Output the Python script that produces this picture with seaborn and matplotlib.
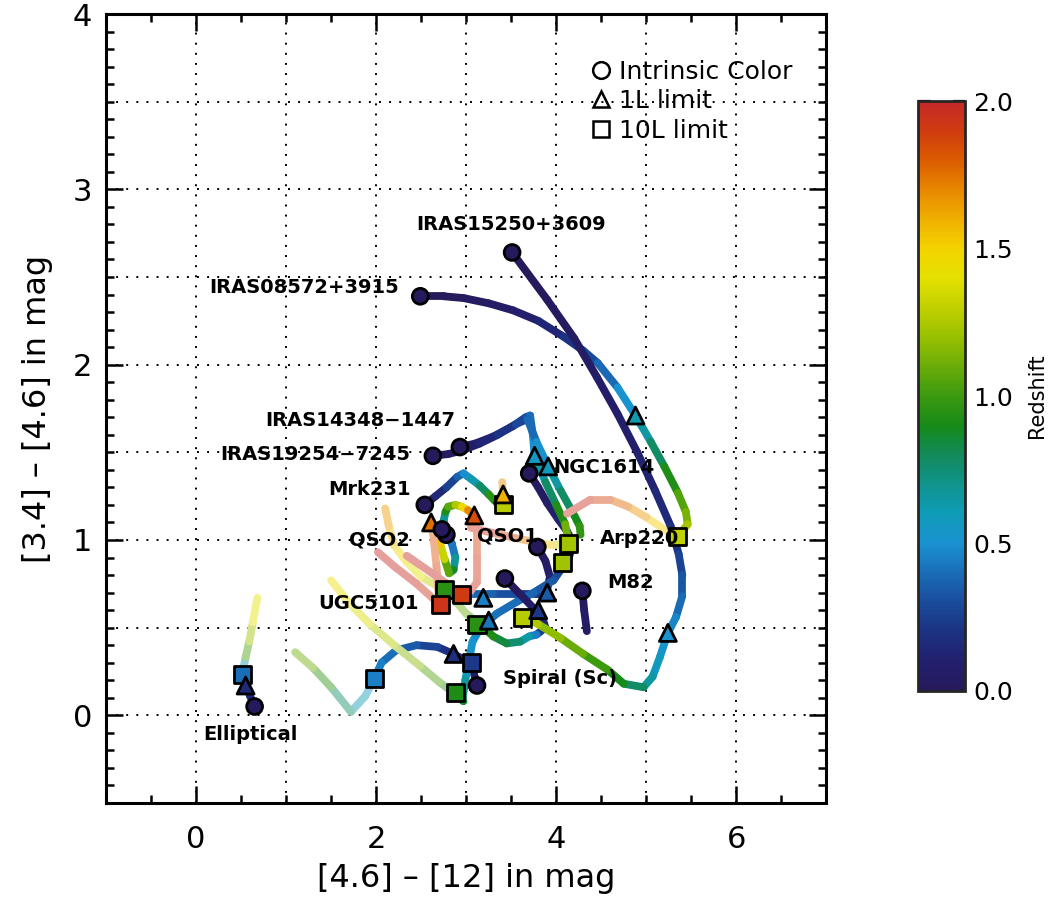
import numpy as np
import pandas as pd
import matplotlib
matplotlib.use("Agg")
import matplotlib.pyplot as plt
import seaborn as sns
from matplotlib.colors import LinearSegmentedColormap, Normalize
from matplotlib.collections import LineCollection
from matplotlib.lines import Line2D
from matplotlib.cm import ScalarMappable
import matplotlib.ticker as mticker

# ---------------------------------------------------------------------------
# Colour tracks of galaxy templates with redshift (0 -> 2)
# x = [4.6]-[12], y = [3.4]-[4.6], z = redshift along the track
# ---------------------------------------------------------------------------
ell_x = [0.65, 0.60, 0.55, 0.51, 0.55, 0.59, 0.63, 0.68]
ell_y = [0.05, 0.11, 0.17, 0.23, 0.33, 0.42, 0.53, 0.67]
ell_z = [0.00, 0.10, 0.20, 0.38, 0.90, 1.15, 1.30, 1.50]

sc_x = [3.12, 3.08, 3.00, 2.86, 2.68, 2.45, 2.22, 2.06, 1.98, 1.88, 1.72, 1.50, 1.30, 1.10]
sc_y = [0.17, 0.25, 0.31, 0.35, 0.39, 0.40, 0.37, 0.30, 0.21, 0.11, 0.02, 0.16, 0.27, 0.36]
sc_z = [0.00, 0.05, 0.10, 0.16, 0.24, 0.32, 0.38, 0.43, 0.47, 0.56, 0.66, 0.88, 1.03, 1.18]

m82_x = [4.29, 4.31, 4.34]
m82_y = [0.71, 0.60, 0.48]
m82_z = [0.00, 0.04, 0.08]

arp_x = [3.79, 3.88, 3.93, 3.90, 3.80, 3.55, 3.30, 3.05, 2.90, 2.82]
arp_y = [0.96, 0.88, 0.79, 0.72, 0.69, 0.69, 0.69, 0.69, 0.70, 0.71]
arp_z = [0.00, 0.04, 0.08, 0.14, 0.20, 0.28, 0.34, 0.40, 0.45, 0.50]

ngc_x = [3.70, 3.80, 3.90, 4.02, 4.12, 4.19, 4.14, 4.05, 3.97, 3.75, 3.57, 3.34, 3.25,
         3.16, 3.07, 3.03, 2.99, 2.97, 2.97, 2.88, 2.70, 2.49, 2.20, 1.93, 1.70, 1.50]
ngc_y = [1.38, 1.30, 1.21, 1.12, 1.05, 0.98, 0.90, 0.83, 0.77, 0.70, 0.65, 0.58, 0.54,
         0.50, 0.42, 0.31, 0.20, 0.13, 0.08, 0.12, 0.19, 0.28, 0.40, 0.52, 0.64, 0.77]
ngc_z = [0.00, 0.03, 0.06, 0.10, 0.14, 0.18, 0.23, 0.28, 0.32, 0.36, 0.39, 0.41, 0.43,
         0.46, 0.50, 0.55, 0.62, 0.72, 0.82, 0.92, 1.00, 1.10, 1.22, 1.32, 1.42, 1.50]

ugc_x = [3.43, 3.60, 3.75, 3.85, 3.88, 3.78, 3.70, 3.60, 3.45, 3.30, 3.15,
         3.00, 2.85, 2.70, 2.50, 2.33, 2.20, 2.14, 2.10]
ugc_y = [0.78, 0.69, 0.61, 0.55, 0.50, 0.46, 0.45, 0.42, 0.41, 0.45, 0.52,
         0.58, 0.67, 0.73, 0.79, 0.88, 0.97, 1.08, 1.18]
ugc_z = [0.00, 0.03, 0.07, 0.11, 0.16, 0.35, 0.55, 0.70, 0.80, 0.88, 0.95,
         1.05, 1.15, 1.25, 1.35, 1.45, 1.52, 1.60, 1.70]

mrk_x = [2.54, 2.66, 2.78, 2.90, 2.97, 3.05, 3.15, 3.25, 3.36, 3.41, 3.41, 3.40]
mrk_y = [1.20, 1.25, 1.30, 1.36, 1.38, 1.35, 1.31, 1.26, 1.20, 1.20, 1.26, 1.33]
mrk_z = [0.00, 0.10, 0.20, 0.32, 0.42, 0.55, 0.70, 0.85, 1.05, 1.25, 1.55, 1.85]

qso1_x = [2.78, 2.84, 2.88, 2.86, 2.81, 2.76, 2.71, 2.66, 2.61, 2.64, 2.67, 2.69, 2.71, 2.45, 2.20, 2.02]
qso1_y = [1.03, 0.98, 0.90, 0.83, 0.81, 0.89, 0.98, 1.05, 1.10, 1.00, 0.85, 0.72, 0.63, 0.75, 0.85, 0.93]
qso1_z = [0.00, 0.30, 0.55, 0.80, 0.95, 1.20, 1.45, 1.65, 1.75, 1.80, 1.85, 1.90, 1.93, 1.96, 1.98, 2.00]

qso2_x = [2.73, 2.75, 2.77, 2.80, 2.88, 2.95, 3.02, 3.09, 3.12, 3.12, 3.12, 3.05, 2.95, 2.65, 2.34]
qso2_y = [1.06, 1.11, 1.16, 1.19, 1.20, 1.19, 1.17, 1.14, 1.05, 0.90, 0.76, 0.71, 0.69, 0.80, 0.91]
qso2_z = [0.00, 0.50, 0.85, 1.00, 1.15, 1.35, 1.60, 1.82, 1.86, 1.90, 1.93, 1.95, 1.96, 1.98, 2.00]

i14348_x = [2.93, 3.10, 3.30, 3.52, 3.66, 3.71, 3.74, 3.76, 3.88, 4.00, 4.10, 4.14,
            3.95, 3.75, 3.55, 3.30, 3.05]
i14348_y = [1.53, 1.55, 1.59, 1.65, 1.70, 1.71, 1.60, 1.48, 1.33, 1.20, 1.09, 0.98,
            0.97, 0.99, 1.01, 1.04, 1.07]
i14348_z = [0.00, 0.05, 0.12, 0.22, 0.30, 0.35, 0.45, 0.55, 0.70, 0.85, 1.00, 1.22,
            1.45, 1.65, 1.80, 1.92, 2.00]

i19254_x = [2.63, 2.80, 2.95, 3.15, 3.35, 3.55, 3.68, 3.78, 3.91, 4.05, 4.18, 4.26, 4.27]
i19254_y = [1.48, 1.49, 1.51, 1.55, 1.60, 1.66, 1.69, 1.56, 1.42, 1.28, 1.16, 1.08, 1.03]
i19254_z = [0.00, 0.02, 0.05, 0.10, 0.17, 0.25, 0.32, 0.45, 0.58, 0.72, 0.85, 0.94, 1.00]

i08572_x = [2.49, 2.75, 2.97, 3.25, 3.52, 3.80, 4.08, 4.30, 4.46, 4.68, 4.88, 5.05, 5.20,
            5.35, 5.44, 5.46, 5.35, 5.20, 5.00, 4.80, 4.60, 4.38, 4.12]
i08572_y = [2.39, 2.39, 2.38, 2.35, 2.31, 2.25, 2.16, 2.08, 2.01, 1.87, 1.71, 1.56, 1.42,
            1.27, 1.16, 1.09, 1.02, 1.06, 1.13, 1.19, 1.23, 1.23, 1.15]
i08572_z = [0.00, 0.01, 0.02, 0.04, 0.07, 0.11, 0.16, 0.25, 0.33, 0.45, 0.58, 0.72, 0.85,
            1.00, 1.10, 1.18, 1.30, 1.45, 1.60, 1.72, 1.82, 1.92, 2.00]

i15250_x = [3.51, 3.90, 4.20, 4.45, 4.68, 4.90, 5.10, 5.27, 5.36, 5.40, 5.40, 5.33, 5.24,
            5.15, 5.07, 4.97, 4.75, 4.57, 4.30, 4.05, 3.80, 3.62]
i15250_y = [2.64, 2.37, 2.15, 1.93, 1.72, 1.50, 1.28, 1.08, 0.92, 0.80, 0.68, 0.56, 0.47,
            0.33, 0.22, 0.16, 0.18, 0.26, 0.35, 0.44, 0.52, 0.56]
i15250_z = [0.00, 0.02, 0.04, 0.06, 0.08, 0.10, 0.13, 0.18, 0.24, 0.30, 0.36, 0.43, 0.50,
            0.55, 0.60, 0.70, 0.85, 0.95, 1.05, 1.15, 1.22, 1.28]

# index from which a track is drawn washed out (beyond the 10L limit)
fade_start = {"ell": 3, "sc": 8, "m82": 99, "arp": 99, "ngc": 19, "ugc": 10,
              "mrk": 9, "qso1": 8, "qso2": 7, "i14348": 11, "i19254": 99,
              "i08572": 16, "i15250": 99}

track_order = ["ell", "sc", "m82", "arp", "ngc", "ugc", "mrk", "qso1", "qso2",
               "i14348", "i19254", "i08572", "i15250"]

# detection-limit markers, one per template (same order as track_order)
tri_x = [0.55, 2.86, 3.90, 3.19, 3.25, 3.80, 3.41, 2.61, 3.09, 3.76, 3.91, 4.88, 5.24]
tri_y = [0.17, 0.35, 0.70, 0.67, 0.54, 0.60, 1.26, 1.10, 1.14, 1.48, 1.42, 1.71, 0.47]
tri_z = [0.15, 0.18, 0.35, 0.45, 0.42, 0.22, 1.60, 1.75, 1.85, 0.55, 0.58, 0.62, 0.50]

sq_x = [0.51, 1.98, 3.06, 2.76, 2.88, 3.12, 3.41, 2.71, 2.95, 4.14, 4.07, 5.35, 3.62]
sq_y = [0.23, 0.21, 0.30, 0.72, 0.13, 0.52, 1.20, 0.63, 0.69, 0.98, 0.87, 1.02, 0.56]
sq_z = [0.40, 0.45, 0.22, 0.95, 0.92, 0.95, 1.28, 1.93, 1.90, 1.22, 1.22, 1.30, 1.28]

# template names and where they are written
label_text = ["IRAS15250+3609", "IRAS08572+3915", "IRAS14348\u22121447", "IRAS19254\u22127245",
              "NGC1614", "Mrk231", "QSO2", "QSO1", "Arp220", "M82", "UGC5101",
              "Spiral (Sc)", "Elliptical"]
label_x = [3.50, 1.20, 1.82, 1.32, 3.97, 1.93, 2.04, 3.46, 4.93, 4.83, 1.92, 4.04, 0.60]
label_y = [2.80, 2.44, 1.68, 1.49, 1.415, 1.29, 1.00, 1.02, 1.01, 0.76, 0.64, 0.21, -0.11]
label_ha = ["center"] * 4 + ["left"] + ["center"] * 8

grid_x = [0, 1, 2, 3, 4, 5, 6]
grid_y = [0.0, 0.5, 1.0, 1.5, 2.0, 2.5, 3.0, 3.5]

tracks = {
    "ell": (ell_x, ell_y, ell_z), "sc": (sc_x, sc_y, sc_z), "m82": (m82_x, m82_y, m82_z),
    "arp": (arp_x, arp_y, arp_z), "ngc": (ngc_x, ngc_y, ngc_z), "ugc": (ugc_x, ugc_y, ugc_z),
    "mrk": (mrk_x, mrk_y, mrk_z), "qso1": (qso1_x, qso1_y, qso1_z),
    "qso2": (qso2_x, qso2_y, qso2_z), "i14348": (i14348_x, i14348_y, i14348_z),
    "i19254": (i19254_x, i19254_y, i19254_z), "i08572": (i08572_x, i08572_y, i08572_z),
    "i15250": (i15250_x, i15250_y, i15250_z),
}

# rainbow colour table for redshift
cmap = LinearSegmentedColormap.from_list("redshift", [
    (0.00, "#261a5c"), (0.05, "#22206e"), (0.10, "#1c3282"), (0.15, "#1a4c9c"),
    (0.20, "#1a6eb8"), (0.25, "#1a92d2"), (0.30, "#0f9cb8"), (0.35, "#10948c"),
    (0.40, "#128a5a"), (0.45, "#168a18"), (0.50, "#3c9a10"), (0.55, "#6aac08"),
    (0.60, "#98c000"), (0.65, "#c0d000"), (0.70, "#e4e000"), (0.75, "#f4d400"),
    (0.80, "#f0b000"), (0.85, "#e88800"), (0.90, "#dc5c00"), (0.95, "#d03c10"),
    (1.00, "#c42828")])
norm = Normalize(0.0, 2.0)

sns.set_style("white")
plt.rcParams["font.family"] = ["DejaVu Sans"]
plt.rcParams["text.color"] = "black"
plt.rcParams["axes.labelcolor"] = "black"
plt.rcParams["xtick.color"] = "black"
plt.rcParams["ytick.color"] = "black"

fig = plt.figure(figsize=(10.5, 9.11), dpi=100)
ax = fig.add_axes([0.101, 0.1186, 0.686, 0.866])
cax = fig.add_axes([0.874, 0.2415, 0.0448, 0.6476])

ax.set_xlim(-1, 7)
ax.set_ylim(-0.5, 4)

for gx in grid_x:
    ax.axvline(gx, color="black", lw=1.4, ls=(0, (1, 4.2)), zorder=1)
for gy in grid_y:
    ax.axhline(gy, color="black", lw=1.4, ls=(0, (1, 4.2)), zorder=1)

# tracks, coloured segment by segment by redshift
for key in track_order:
    tx, ty, tz = (np.asarray(a, float) for a in tracks[key])
    pts = np.column_stack([tx, ty])
    segs = np.stack([pts[:-1], pts[1:]], axis=1)
    zmid = 0.5 * (tz[:-1] + tz[1:])
    cols = cmap(norm(zmid))
    faded = np.arange(len(zmid)) >= fade_start[key]
    cols[faded, :3] = 0.45 * cols[faded, :3] + 0.55
    lc = LineCollection(segs, colors=cols, linewidths=5.6, capstyle="round",
                        joinstyle="round", zorder=3)
    ax.add_collection(lc)

circ = pd.DataFrame({"x": [tracks[k][0][0] for k in track_order],
                     "y": [tracks[k][1][0] for k in track_order],
                     "z": [tracks[k][2][0] for k in track_order]})
tri = pd.DataFrame({"x": tri_x, "y": tri_y, "z": tri_z})
sq = pd.DataFrame({"x": sq_x, "y": sq_y, "z": sq_z})

common = dict(hue="z", palette=cmap, hue_norm=norm, edgecolor="black",
              linewidth=2.0, legend=False, ax=ax, zorder=5)
sns.scatterplot(data=sq, x="x", y="y", marker="s", s=150, **common)
sns.scatterplot(data=tri, x="x", y="y", marker="^", s=150, **common)
sns.scatterplot(data=circ, x="x", y="y", marker="o", s=130, **common)

for t, lx, ly, ha in zip(label_text, label_x, label_y, label_ha):
    ax.text(lx, ly, t, ha=ha, va="center", fontsize=14, fontweight="bold",
            color="black", zorder=6)

handles = [
    Line2D([], [], ls="none", marker="o", mfc="none", mec="black", mew=1.8, ms=12),
    Line2D([], [], ls="none", marker="^", mfc="none", mec="black", mew=1.8, ms=12),
    Line2D([], [], ls="none", marker="s", mfc="none", mec="black", mew=1.8, ms=12),
]
ax.legend(handles, ["Intrinsic Color", "1L limit", "10L limit"], loc="upper left",
          bbox_to_anchor=(0.66, 0.955), frameon=False, fontsize=18,
          handlelength=0.8, handletextpad=0.3, labelspacing=0.22, borderaxespad=0)

ax.set_xticks([0, 2, 4, 6])
ax.xaxis.set_minor_locator(mticker.MultipleLocator(0.5))
ax.set_yticks([0, 1, 2, 3, 4])
ax.yaxis.set_minor_locator(mticker.MultipleLocator(0.1))
ax.tick_params(which="both", direction="in", top=True, right=True, bottom=True,
               left=True, width=1.8, labelsize=22, colors="black")
ax.tick_params(which="major", length=12)
ax.tick_params(which="minor", length=6)
ax.tick_params(axis="x", pad=16)
ax.tick_params(axis="y", pad=10)
for sp in ax.spines.values():
    sp.set_visible(True)
    sp.set_linewidth(2.2)
    sp.set_color("black")

ax.set_xlabel("[4.6] \u2013 [12] in mag", fontsize=23, labelpad=6)
ax.set_ylabel("[3.4] \u2013 [4.6] in mag", fontsize=23, labelpad=14)

cb = fig.colorbar(ScalarMappable(norm=norm, cmap=cmap), cax=cax)
cb.set_ticks([0.0, 0.5, 1.0, 1.5, 2.0])
cb.ax.yaxis.set_major_formatter(mticker.FormatStrFormatter("%.1f"))
cb.ax.yaxis.set_minor_locator(mticker.MultipleLocator(0.1))
cb.ax.tick_params(which="both", direction="in", left=True, right=True,
                  labelsize=18, width=1.6, pad=6, colors="black")
cb.ax.tick_params(which="major", length=9)
cb.ax.tick_params(which="minor", length=5)
cb.outline.set_linewidth(2.0)
cb.set_label("Redshift", fontsize=15, labelpad=10, color="black")

fig.savefig("out.png", dpi=100)
